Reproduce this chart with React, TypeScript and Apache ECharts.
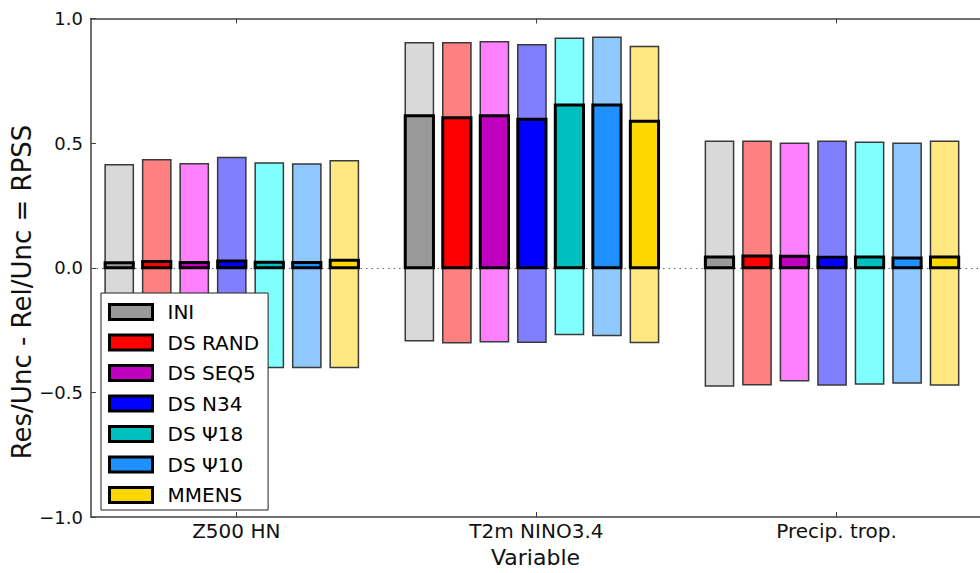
import React, { useEffect, useRef } from "react";
import * as echarts from "echarts";

// ---- data ----
const variables = ["Z500 HN", "T2m NINO3.4", "Precip. trop."];
const experiments = ["INI", "DS RAND", "DS SEQ5", "DS N34", "DS \u03A818", "DS \u03A810", "MMENS"];

// Res/Unc (top of the pale bars)
const resZ500 = [0.413, 0.433, 0.417, 0.442, 0.42, 0.416, 0.429];
const resT2m = [0.903, 0.903, 0.907, 0.895, 0.921, 0.925, 0.888];
const resPrecip = [0.508, 0.508, 0.5, 0.508, 0.504, 0.5, 0.508];

// Rel/Unc (drawn downwards, bottom of the pale bars)
const relZ500 = [0.393, 0.408, 0.396, 0.415, 0.4, 0.4, 0.4];
const relT2m = [0.293, 0.301, 0.297, 0.299, 0.268, 0.272, 0.3];
const relPrecip = [0.474, 0.469, 0.453, 0.47, 0.466, 0.462, 0.47];

// RPSS (solid bars)
const rpssZ500 = [0.02, 0.025, 0.021, 0.027, 0.022, 0.021, 0.03];
const rpssT2m = [0.61, 0.602, 0.61, 0.596, 0.653, 0.653, 0.588];
const rpssPrecip = [0.043, 0.047, 0.046, 0.042, 0.043, 0.039, 0.043];

const yTickValues = [-1, -0.5, 0, 0.5, 1];

// ---- styles ----
const solidColors = ["#999999", "#ff0000", "#bf00bf", "#0000ff", "#00bfbf", "#1e90ff", "#ffd700"];
const lightColors = ["#d9d9d9", "#ff8080", "#ff80ff", "#8080ff", "#80ffff", "#8fc8ff", "#ffe880"];
const FONT = "DejaVu Sans";
const AXIS_COLOR = "#404040";

export default function App() {
  const ref = useRef<HTMLDivElement>(null);

  useEffect(() => {
    const chart = echarts.init(ref.current as HTMLDivElement, null, { renderer: "svg" });

    const resAll = [resZ500, resT2m, resPrecip];
    const relAll = [relZ500, relT2m, relPrecip];
    const rpssAll = [rpssZ500, rpssT2m, rpssPrecip];

    const X_MIN = -0.484;
    const X_MAX = 2.478;
    const STEP = 0.125;
    const SHIFT = -0.015;
    const BAR_W = 0.094;
    const catTicks = variables.map((_, i) => i);

    const series: any[] = experiments.map((name, j) => ({
      type: "custom",
      name,
      coordinateSystem: "cartesian2d",
      xAxisIndex: 0,
      yAxisIndex: 0,
      itemStyle: { color: solidColors[j] },
      encode: { x: 0, y: 1 },
      data: variables.map((_, g) => [g, resAll[g][j], relAll[g][j], rpssAll[g][j]]),
      renderItem: (params: any, api: any) => {
        const g = api.value(0);
        const res = api.value(1);
        const rel = api.value(2);
        const rpss = api.value(3);
        const xc = g + SHIFT + (j - 3) * STEP;
        const pTop = api.coord([xc - BAR_W / 2, res]);
        const pBot = api.coord([xc + BAR_W / 2, -rel]);
        const pZero = api.coord([xc, 0]);
        const pR = api.coord([xc, rpss]);
        const x0 = pTop[0];
        const w = pBot[0] - pTop[0];
        return {
          type: "group",
          children: [
            {
              type: "rect",
              shape: { x: x0, y: pTop[1], width: w, height: pBot[1] - pTop[1] },
              style: { fill: lightColors[j], stroke: "#3a3a3a", lineWidth: 1.5 },
            },
            {
              type: "rect",
              shape: { x: x0, y: pR[1], width: w, height: pZero[1] - pR[1] },
              style: { fill: solidColors[j], stroke: "#000000", lineWidth: 3 },
            },
          ],
        };
      },
      markLine:
        j === 0
          ? {
              silent: true,
              z: 1,
              symbol: ["none", "none"],
              label: { show: false },
              lineStyle: { type: [1.5, 4], color: "#666666", width: 1 },
              data: [{ yAxis: 0 }],
            }
          : undefined,
    }));

    chart.setOption({
      animation: false,
      backgroundColor: "#ffffff",
      textStyle: { fontFamily: FONT },
      grid: { left: 91, top: 18.5, width: 896, height: 501, containLabel: false },
      xAxis: [
        {
          type: "value",
          position: "bottom",
          min: X_MIN,
          max: X_MAX,
          name: "Variable",
          nameLocation: "middle",
          nameGap: 29,
          nameTextStyle: { fontSize: 22, color: "#111", fontFamily: FONT },
          axisLine: { show: true, onZero: false, lineStyle: { color: AXIS_COLOR, width: 1.5 } },
          axisTick: { show: true, inside: true, length: 5, customValues: catTicks, lineStyle: { color: AXIS_COLOR, width: 1 } },
          axisLabel: {
            show: true,
            customValues: catTicks,
            margin: 4,
            fontSize: 20,
            color: "#111",
            fontFamily: FONT,
            formatter: (v: number) => variables[Math.round(v)] ?? "",
          },
          splitLine: { show: false },
        },
        {
          type: "value",
          position: "top",
          min: X_MIN,
          max: X_MAX,
          axisLine: { show: true, onZero: false, lineStyle: { color: AXIS_COLOR, width: 1.5 } },
          axisTick: { show: true, inside: true, length: 5, customValues: catTicks, lineStyle: { color: AXIS_COLOR, width: 1 } },
          axisLabel: { show: false },
          splitLine: { show: false },
        },
      ],
      yAxis: [
        {
          type: "value",
          position: "left",
          min: -1,
          max: 1,
          interval: 0.5,
          axisLine: { show: true, onZero: false, lineStyle: { color: AXIS_COLOR, width: 1.5 } },
          axisTick: { show: true, inside: true, length: 5, customValues: yTickValues, lineStyle: { color: AXIS_COLOR, width: 1 } },
          axisLabel: {
            margin: 8,
            fontSize: 18,
            color: "#111",
            fontFamily: FONT,
            formatter: (v: number) => (v < 0 ? "\u2212" : "") + Math.abs(v).toFixed(1),
          },
          splitLine: { show: false },
        },
      ],
      legend: {
        orient: "vertical",
        left: 101,
        top: 293,
        data: experiments,
        backgroundColor: "#ffffff",
        borderColor: "#222222",
        borderWidth: 1,
        borderRadius: 0,
        padding: [9, 9, 5, 7],
        itemWidth: 43,
        itemHeight: 15,
        itemGap: 10.5,
        icon: "rect",
        itemStyle: { borderColor: "#000000", borderWidth: 3 },
        textStyle: { fontFamily: FONT, fontSize: 20, color: "#000000", padding: [0, 0, 0, 10] },
        z: 10,
      },
      graphic: [
        {
          type: "text",
          x: 22,
          y: 292,
          rotation: Math.PI / 2,
          style: {
            text: "Res/Unc - Rel/Unc = RPSS",
            font: `26px "${FONT}"`,
            fill: "#111111",
            align: "center",
            verticalAlign: "middle",
          },
        },
      ],
      series,
    });

    return () => {
      chart.dispose();
    };
  }, []);

  return (
    <div
      ref={ref}
      style={{ position: "fixed", left: 0, top: 0, width: 980, height: 573, background: "#ffffff" }}
    />
  );
}
